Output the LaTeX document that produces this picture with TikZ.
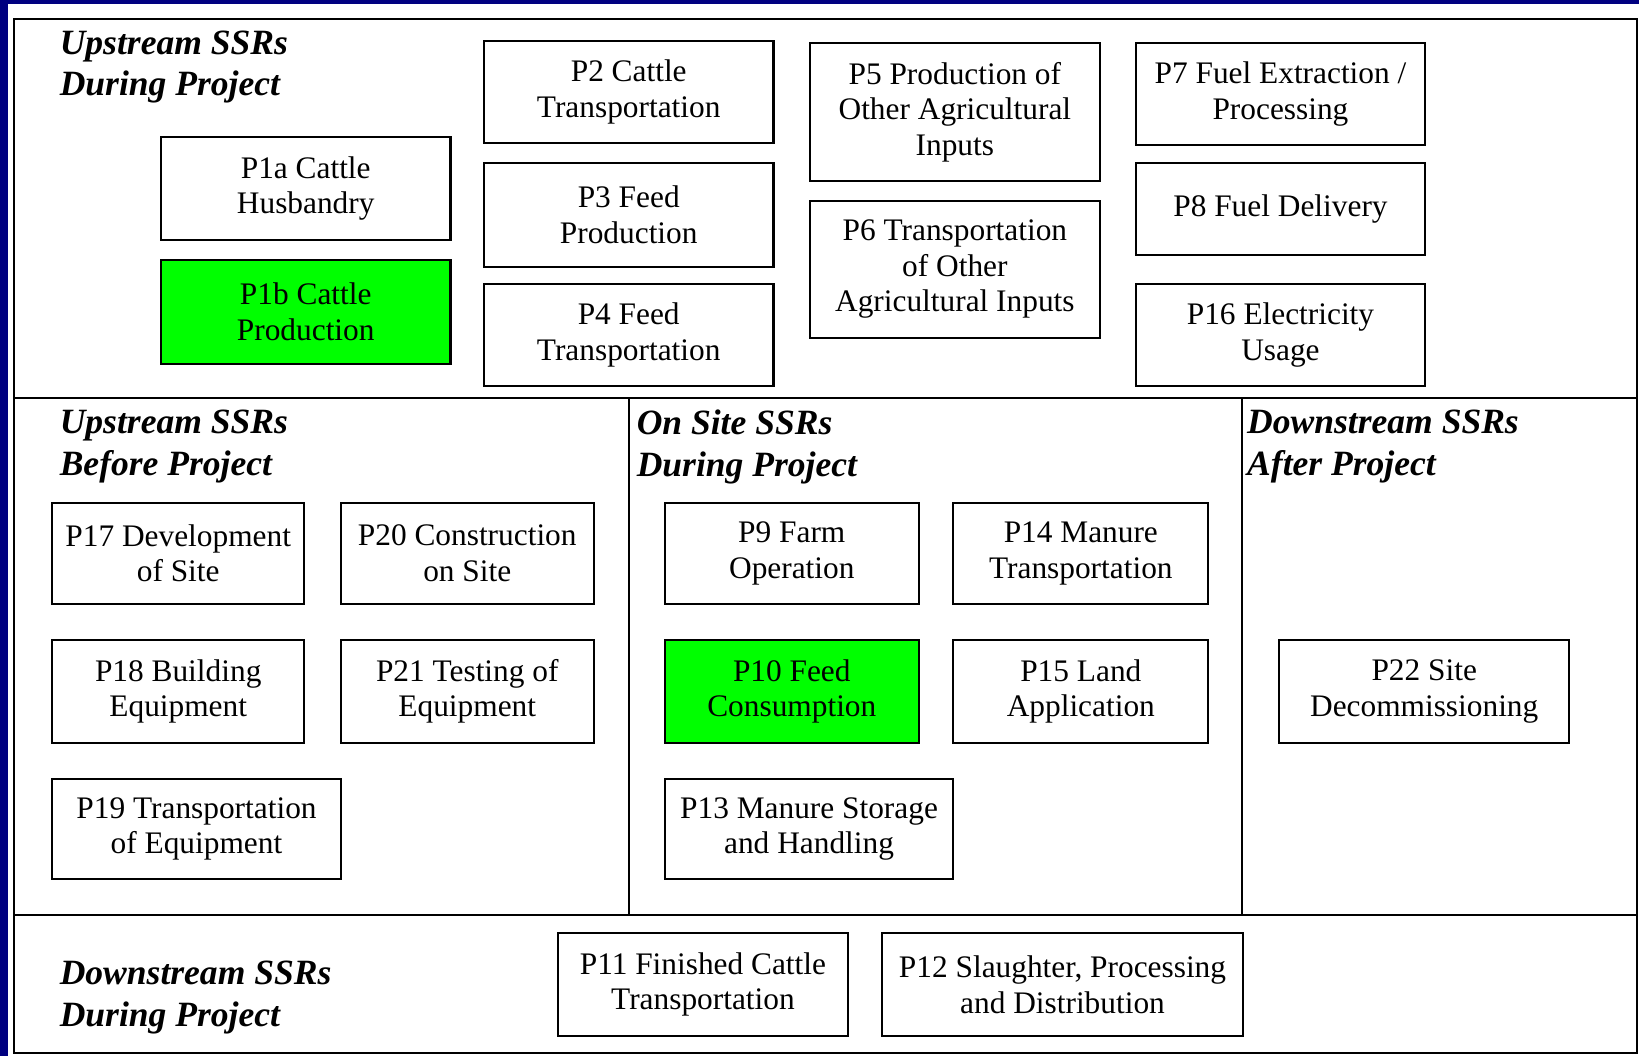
\documentclass[tikz,border=0pt]{standalone}
\usepackage{fontspec}
\setmainfont{Liberation Serif}
\definecolor{navy}{RGB}{0,0,128}
\definecolor{pgreen}{RGB}{0,255,0}
\begin{document}
\begin{tikzpicture}[x=1pt,y=-1pt,
  box/.style={draw=black, line width=2pt, fill=white, align=center, inner sep=0pt,
    font=\fontsize{30}{34}\selectfont, anchor=north west},
  greenbox/.style={box, fill=pgreen},
  hdr/.style={anchor=north west, align=left, inner sep=0pt,
    font=\fontsize{34}{40}\selectfont\bfseries\itshape},
  frame/.style={draw=black, line width=2pt}]
\useasboundingbox (0,0) rectangle (1568,1010);
\fill[navy] (0,0) rectangle (1568,1010);
\fill[white] (8,4) rectangle (1568,1010);
% frame and dividers
\draw[frame] (13.5,18) rectangle (1566,1007);
\draw[frame] (13.5,381) -- (1566,381);
\draw[frame] (13.5,875) -- (1566,875);
\draw[frame] (602,381) -- (602,875);
\draw[frame] (1188,381) -- (1188,875);
% headings
\node[hdr] (h1) at (57,29) {Upstream SSRs\\During Project};
\node[hdr] (h2) at (57,392) {Upstream SSRs\\Before Project};
\node[hdr] (h3) at (609,392) {On Site SSRs\\During Project};
\node[hdr] (h4) at (1193,392) {Downstream SSRs\\After Project};
\node[hdr] (h5) at (57,919) {Downstream SSRs\\During Project};
% top row
\node[box, minimum width=277, minimum height=99] (p1a) at (153,130) {P1a Cattle\\Husbandry};
\node[greenbox, minimum width=277, minimum height=99] (p1b) at (153,248) {P1b Cattle\\Production};
\node[box, minimum width=277, minimum height=98] (p2) at (462,38) {P2 Cattle\\Transportation};
\node[box, minimum width=277, minimum height=99] (p3) at (462,155) {P3 Feed\\Production};
\node[box, minimum width=277, minimum height=97] (p4) at (462,271) {P4 Feed\\Transportation};
\node[box, minimum width=277, minimum height=132] (p5) at (774,40) {P5 Production of\\Other Agricultural\\Inputs};
\node[box, minimum width=277, minimum height=131] (p6) at (774,191) {P6 Transportation\\of Other\\Agricultural Inputs};
\node[box, minimum width=276, minimum height=98] (p7) at (1086,40) {P7 Fuel Extraction /\\Processing};
\node[box, minimum width=276, minimum height=88] (p8) at (1086,155) {P8 Fuel Delivery};
\node[box, minimum width=276, minimum height=97] (p16) at (1086,271) {P16 Electricity\\Usage};
% middle row
\node[box, minimum width=241, minimum height=97] (p17) at (49,480) {P17 Development\\of Site};
\node[box, minimum width=242, minimum height=97] (p20) at (325,480) {P20 Construction\\on Site};
\node[box, minimum width=241, minimum height=99] (p18) at (49,611) {P18 Building\\Equipment};
\node[box, minimum width=242, minimum height=99] (p21) at (325,611) {P21 Testing of\\Equipment};
\node[box, minimum width=276, minimum height=96] (p19) at (49,744) {P19 Transportation\\of Equipment};
\node[box, minimum width=243, minimum height=97] (p9) at (635,480) {P9 Farm\\Operation};
\node[box, minimum width=244, minimum height=97] (p14) at (911,480) {P14 Manure\\Transportation};
\node[greenbox, minimum width=243, minimum height=99] (p10) at (635,611) {P10 Feed\\Consumption};
\node[box, minimum width=244, minimum height=99] (p15) at (911,611) {P15 Land\\Application};
\node[box, minimum width=276, minimum height=96] (p13) at (635,744) {P13 Manure Storage\\and Handling};
\node[box, minimum width=277, minimum height=99] (p22) at (1223,611) {P22 Site\\Decommissioning};
% bottom row
\node[box, minimum width=277, minimum height=98] (p11) at (533,892) {P11 Finished Cattle\\Transportation};
\node[box, minimum width=345, minimum height=98] (p12) at (843,892) {P12 Slaughter, Processing\\and Distribution};
\end{tikzpicture}
\end{document}
